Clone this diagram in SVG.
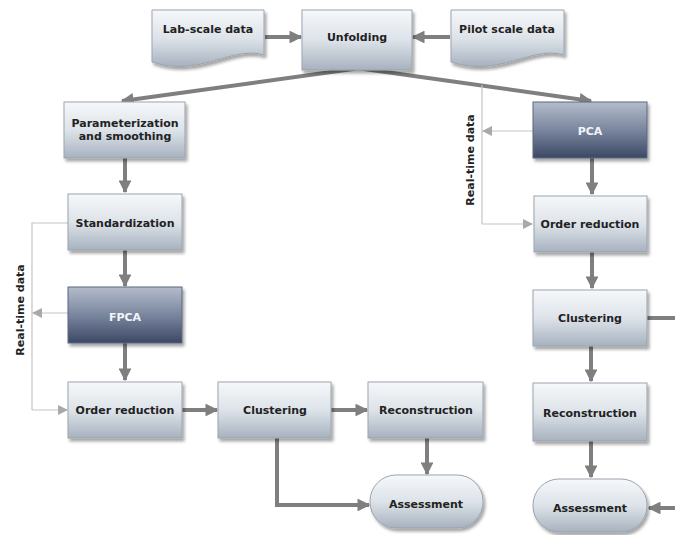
<svg xmlns="http://www.w3.org/2000/svg" width="675" height="535" viewBox="0 0 675 535">
<defs>
<linearGradient id="gl" x1="0" y1="0" x2="0" y2="1"><stop offset="0" stop-color="#f6f8fa"/><stop offset="0.5" stop-color="#dde3e9"/><stop offset="1" stop-color="#a7b2bf"/></linearGradient>
<linearGradient id="gd" x1="0" y1="0" x2="0" y2="1"><stop offset="0" stop-color="#b4bccb"/><stop offset="0.5" stop-color="#7a869e"/><stop offset="1" stop-color="#3c4865"/></linearGradient>
<filter id="sh" x="-10%" y="-10%" width="130%" height="140%"><feDropShadow dx="2" dy="3" stdDeviation="1.5" flood-color="#000" flood-opacity="0.35"/></filter>
<marker id="ah" viewBox="0 0 10 10" refX="9" refY="5" markerWidth="3.2" markerHeight="3.2" orient="auto" markerUnits="strokeWidth"><path d="M0,0 L10,5 L0,10 z" fill="#7f7f7f"/></marker>
<marker id="at" viewBox="0 0 10 10" refX="9" refY="5" markerWidth="10" markerHeight="10" orient="auto" markerUnits="userSpaceOnUse"><path d="M0,0 L10,5 L0,10 z" fill="#a9a9a9"/></marker>
</defs>
<style>
.b{fill:url(#gl);stroke:#9ba3ad;stroke-width:1;filter:url(#sh)}
.d{fill:url(#gd);stroke:#5d6880;stroke-width:1;filter:url(#sh)}
.t{font-family:"DejaVu Sans",Verdana,sans-serif;font-weight:bold;font-size:11px;fill:#222;text-anchor:middle}
.w{fill:#f2f4f8}
.c{fill:none;stroke:#7f7f7f;stroke-width:4;marker-end:url(#ah)}
.p{fill:none;stroke:#7f7f7f;stroke-width:4}
.n{fill:none;stroke:#c4c4c4;stroke-width:1.2}
.na{fill:none;stroke:#c4c4c4;stroke-width:1.2;marker-end:url(#at)}
</style>
<g id="connectors">
<path class="c" d="M265,37 H301"/>
<path class="c" d="M450,37 H413"/>
<path class="c" d="M360,68 L122,101"/>
<path class="c" d="M357,68 L591,101"/>
<path class="c" d="M125,158 V192"/>
<path class="c" d="M125,250 V286"/>
<path class="c" d="M125,343 V380"/>
<path class="c" d="M182,410 H217"/>
<path class="c" d="M331,410 H367"/>
<path class="c" d="M427,438 V474"/>
<path class="c" d="M277,438 V505 H369"/>
<path class="c" d="M592,158 V194"/>
<path class="c" d="M592,252 V288"/>
<path class="c" d="M591,346 V381"/>
<path class="c" d="M591,441 V477"/>
<path class="p" d="M647,318 H675"/>
<path class="c" d="M675,508 H649"/>
<path class="n" d="M68,223 H32 V410"/>
<path class="na" d="M32,410 H67"/>
<path class="na" d="M68,313 H33"/>
<path class="n" d="M482,85 V224"/>
<path class="na" d="M482,224 H532"/>
<path class="na" d="M533,131 H483"/>
</g>
<g id="lab"><path class="b" d="M152,10 H264 V55 C232,45 200,78 152,62 Z"/><text class="t" x="208" y="33">Lab-scale data</text></g>
<g id="unfolding"><rect class="b" x="302" y="10" width="110" height="60"/><text class="t" x="357" y="41">Unfolding</text></g>
<g id="pilot"><path class="b" d="M451,10 H564 V55 C532,45 500,78 451,62 Z"/><text class="t" x="507" y="33">Pilot scale data</text></g>
<g id="param"><rect class="b" x="64" y="102" width="121" height="56"/><text class="t" x="125" y="127">Parameterization</text><text class="t" x="125" y="140">and smoothing</text></g>
<g id="std"><rect class="b" x="68" y="194" width="114" height="56"/><text class="t" x="125" y="227">Standardization</text></g>
<g id="fpca"><rect class="d" x="68" y="287" width="114" height="56"/><text class="t w" x="125" y="321">FPCA</text></g>
<g id="order1"><rect class="b" x="68" y="382" width="114" height="56"/><text class="t" x="125" y="414">Order reduction</text></g>
<g id="clust1"><rect class="b" x="218" y="382" width="113" height="56"/><text class="t" x="275" y="414">Clustering</text></g>
<g id="recon1"><rect class="b" x="368" y="382" width="115" height="56"/><text class="t" x="426" y="414">Reconstruction</text></g>
<g id="assess1"><rect class="b" x="370" y="475" width="113" height="53" rx="26" ry="26"/><text class="t" x="426" y="508">Assessment</text></g>
<g id="pca"><rect class="d" x="533" y="102" width="114" height="56"/><text class="t w" x="590" y="135">PCA</text></g>
<g id="order2"><rect class="b" x="534" y="196" width="113" height="56"/><text class="t" x="590" y="228">Order reduction</text></g>
<g id="clust2"><rect class="b" x="533" y="290" width="114" height="56"/><text class="t" x="590" y="322">Clustering</text></g>
<g id="recon2"><rect class="b" x="533" y="383" width="114" height="58"/><text class="t" x="590" y="417">Reconstruction</text></g>
<g id="assess2"><rect class="b" x="533" y="479" width="114" height="53" rx="26" ry="26"/><text class="t" x="590" y="512">Assessment</text></g>
<g id="labels">
<text class="t" transform="translate(24,310) rotate(-90)">Real-time data</text>
<text class="t" transform="translate(474,160) rotate(-90)">Real-time data</text>
</g>
</svg>
